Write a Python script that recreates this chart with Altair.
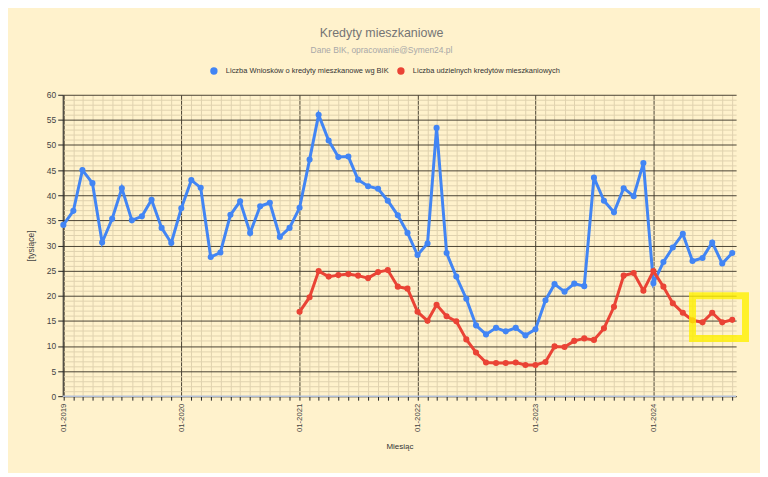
import altair as alt
import pandas as pd

# ---- data ----
months = [f"{y}-{m:02d}-01" for y in range(2019, 2025) for m in range(1, 13)][:69]

wnioski = [
    34.1, 36.9, 45.0, 42.4, 30.6, 35.3, 41.4, 35.0, 35.8, 39.1, 33.5, 30.5,   # 2019
    37.4, 43.0, 41.5, 27.7, 28.6, 36.1, 38.8, 32.5, 37.8, 38.5, 31.7, 33.5,   # 2020
    37.5, 47.1, 56.0, 50.9, 47.6, 47.7, 43.1, 41.8, 41.3, 38.9, 36.0, 32.5,   # 2021
    28.1, 30.4, 53.4, 28.5, 23.8, 19.4, 14.1, 12.3, 13.6, 12.9, 13.6, 12.1,   # 2022
    13.3, 19.1, 22.3, 20.8, 22.4, 21.9, 43.5, 38.9, 36.6, 41.4, 39.8, 46.4,   # 2023
    22.5, 26.7, 29.6, 32.3, 26.9, 27.5, 30.6, 26.4, 28.5,                     # 2024
]

udzielone_months = months[24:]  # from 01-2021
udzielone = [
    16.8, 19.7, 24.9, 23.8, 24.1, 24.3, 24.0, 23.5, 24.7, 25.1, 21.8, 21.4,   # 2021
    16.8, 15.0, 18.2, 15.9, 14.9, 11.3, 8.7, 6.7, 6.6, 6.6, 6.7, 6.2,         # 2022
    6.2, 6.8, 9.9, 9.8, 11.0, 11.5, 11.2, 13.5, 17.8, 24.0, 24.5, 21.0,       # 2023
    24.9, 21.8, 18.5, 16.6, 15.1, 14.7, 16.6, 14.7, 15.2,                     # 2024
]

SER_W = "Liczba Wniosków o kredyty mieszkanowe wg BIK"
SER_U = "Liczba udzielnych kredytów mieszkaniowych"
series_names = [SER_W, SER_U]
series_colors = ["#4285F4", "#EA4335"]

# highlighted region (hand-drawn yellow box in the reference)
hl_x = ["2024-05-01"]
hl_x2 = ["2024-10-12"]
hl_y = [11.5]
hl_y2 = [20.0]

rows = [{"date": d, "series": SER_W, "value": v} for d, v in zip(months, wnioski)]
rows += [{"date": d, "series": SER_U, "value": v} for d, v in zip(udzielone_months, udzielone)]
df = pd.DataFrame(rows)
df_w = pd.DataFrame({"date": months, "value": wnioski})
df_hl = pd.DataFrame({"x": hl_x, "x2": hl_x2, "y": hl_y, "y2": hl_y2})

# ---- styling ----
FONT = "Liberation Sans"
BG = "#FFF2CC"
MAJOR = "#4a4333"
MINOR = "#e0d2ae"

d0 = int(pd.Timestamp("2018-12-30", tz="UTC").value // 10**6)
d1 = int(pd.Timestamp("2024-09-13", tz="UTC").value // 10**6)

x_scale = alt.Scale(type="utc", domain=[d0, d1])
y_scale = alt.Scale(domain=[0, 60], nice=False)

x_axis = alt.Axis(
    title="Miesiąc",
    tickCount={"interval": "month", "step": 1},
    labelExpr="utcmonth(datum.value) == 0 ? utcFormat(datum.value, '%m-%Y') : ''",
    labelAngle=270,
    labelOverlap=False,
    labelFlush=False,
    labelPadding=3,
    labelFontSize=7.8,
    labelColor="#444444",
    labelFont=FONT,
    gridColor={"condition": {"test": "utcmonth(datum.value) == 0", "value": MAJOR}, "value": MINOR},
    gridWidth=1,
    tickColor="#222222",
    tickSize=4,
    domainColor="#222222",
    titleFont=FONT,
    titleFontSize=8,
    titleFontWeight="normal",
    titleColor="#333333",
    titlePadding=11,
)

y_axis = alt.Axis(
    title="[tysiące]",
    values=list(range(0, 61)),
    labelExpr="datum.value % 5 == 0 ? datum.label : ''",
    labelOverlap=False,
    labelFlush=False,
    labelPadding=2,
    labelFontSize=8.5,
    labelColor="#444444",
    labelFont=FONT,
    gridColor={"condition": {"test": "datum.value % 5 == 0", "value": MAJOR}, "value": MINOR},
    gridWidth=1,
    tickColor={"condition": {"test": "datum.value % 5 == 0", "value": "#222222"}, "value": "transparent"},
    tickSize=5,
    domainColor="#222222",
    titleFont=FONT,
    titleFontSize=8.5,
    titleFontWeight="normal",
    titleColor="#444444",
    titlePadding=11,
)

base = alt.Chart(df)

trend = (
    alt.Chart(df_w)
    .transform_regression("date", "value", extent=[d0, d1])
    .mark_line(color="#b3bfd6", strokeWidth=1.5)
    .encode(
        x=alt.X("date:T", scale=x_scale, axis=x_axis),
        y=alt.Y("value:Q", scale=y_scale, axis=y_axis),
    )
)

lines = base.mark_line(
    strokeWidth=3,
    point=alt.OverlayMarkDef(filled=True, size=38),
).encode(
    x=alt.X("date:T", scale=x_scale, axis=x_axis),
    y=alt.Y("value:Q", scale=y_scale, axis=y_axis),
    color=alt.Color(
        "series:N",
        scale=alt.Scale(domain=series_names, range=series_colors),
        legend=alt.Legend(
            title=None,
            orient="none",
            direction="horizontal",
            legendX=148,
            legendY=-28,
            symbolType="circle",
            symbolSize=55,
            symbolStrokeWidth=0,
            labelFont=FONT,
            labelFontSize=7.5,
            labelColor="#333333",
            labelLimit=0,
            labelOffset=8,
            columnPadding=8,
            padding=0,
        ),
    ),
    order=alt.Order("date:T"),
)

highlight = (
    alt.Chart(df_hl)
    .mark_rect(fill="transparent", stroke="#fff000", strokeWidth=7, strokeOpacity=0.8)
    .encode(
        x=alt.X("x:T", scale=x_scale, axis=x_axis),
        x2="x2:T",
        y=alt.Y("y:Q", scale=y_scale, axis=y_axis),
        y2="y2:Q",
    )
)

chart = (
    alt.layer(trend, lines, highlight)
    .properties(
        width=677,
        height=303,
        background=BG,
        padding={"left": 55, "top": 86, "right": 24, "bottom": 76},
        autosize=alt.AutoSizeParams(type="none"),
        title=alt.TitleParams(
            text="Kredyty mieszkaniowe",
            subtitle="Dane BIK, opracowanie@Symen24.pl",
            font=FONT,
            fontSize=12.5,
            fontWeight="normal",
            color="#757575",
            subtitleFont=FONT,
            subtitleFontSize=8.5,
            subtitleColor="#a8a8a8",
            subtitlePadding=6,
            anchor="middle",
            frame="group",
            dx=-18,
            offset=13,
        ),
    )
    .configure_view(strokeWidth=0)
)

chart.save("out.html", embed_options={"renderer": "svg", "actions": False})
